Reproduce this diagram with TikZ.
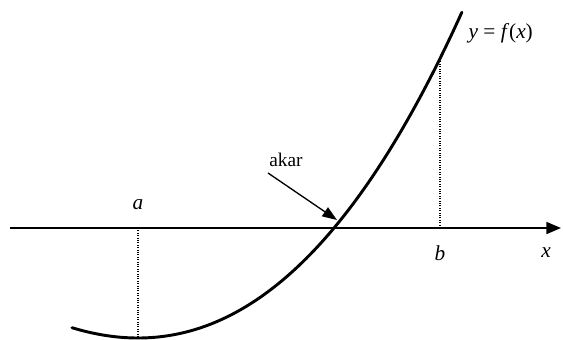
\documentclass[tikz,border=0pt]{standalone}
\usepackage{fontspec}
\setmainfont{Liberation Serif}
\usetikzlibrary{arrows.meta,positioning}

\begin{document}
\begin{tikzpicture}[x=0.75pt,y=-0.75pt,
        axis/.style={-{Triangle[length=11pt,width=9pt]},line width=1.3pt},
        curve/.style={line width=2.2pt,line cap=round},
        drop/.style={densely dotted,line width=0.8pt},
        arr/.style={-{Triangle[length=11pt,width=8pt]},line width=1pt},
        lbl/.style={font=\fontsize{16}{19}\selectfont,inner sep=1pt}
      ]
        \useasboundingbox (0,0) rectangle (563,339);
        % x axis
        \coordinate (O) at (10,228);
        \coordinate (E) at (561,228);
        \draw[axis] (O)--(E);
        % the curve
        \draw[curve] plot[domain=-0.66:3.24,samples=90,smooth,variable=\t]
          ({138+100*\t},{338-24.93*\t*\t-1.891*\t*\t*\t});
        \coordinate (A0) at (138,228);
        \coordinate (A1) at (138,338);
        \coordinate (B0) at (440,228);
        \coordinate (B1) at (440,60);
        \coordinate (R) at (337,220);
        \coordinate (S) at (268,173);
        \draw[drop] (A0)--(A1);
        \draw[drop] (B0)--(B1);
        \node[lbl] (a) at (138,205) {\textit{a}};
        \node[lbl] (b) at (440,253) {\textit{b}};
        \node[lbl] (x) at (546,253) {\textit{x}};
        \node[lbl,anchor=west] (f) at (467,33) {\textit{y} = \textit{f}(\textit{x})};
        \node[lbl,font=\fontsize{14.5}{17}\selectfont] (akar) at (286,160) {akar};
        \draw[arr] (S)--(R);
      \end{tikzpicture}
\end{document}
